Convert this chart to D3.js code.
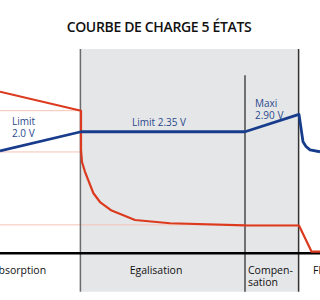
<!DOCTYPE html>
<html>
<head>
<meta charset="utf-8">
<script src="https://cdn.jsdelivr.net/npm/d3@7"></script>
<style>
body { margin: 0; background: #fff; }
svg { display: block; }
</style>
</head>
<body>
<script>
// time (hours, approx) and level (% of scale)
var redT = [0, 4.05, 4.05, 4.1, 4.25, 4.67, 5.0, 5.58, 6.75, 8.5, 12.25, 14.95, 15.58, 16];
var redV = [79.1, 69.8, 50.6, 44.7, 39.9, 29.4, 25.1, 20.9, 16.3, 14.7, 13.7, 13.6, 0.8, 0.8];

var blueT = [0, 4.05, 12.25, 14.95, 15.15, 15.3, 15.5, 16];
var blueV = [50.1, 59.5, 59.5, 68.0, 54.6, 52.3, 50.6, 49.7];

// phase boundaries
var phaseT = [4.02, 12.25, 14.93];
var phaseNames = ['Absorption', 'Egalisation', 'Compen-|sation', 'Floating'];
var phaseLabelT = [0.95, 7.8, 12.4, 15.65];

// thin guide lines : level, from t, to t
var guideV = [69.8, 49.6, 13.9];
var guideEnd = [4.02, 4.02, 14.93];

var title = 'COURBE DE CHARGE 5 ÉTATS';

var width = 320, height = 300;

var x = d3.scaleLinear().domain([0, 16]).range([0, 320]);
var y = d3.scaleLinear().domain([0, 100]).range([253.3, 49]);

var svg = d3.select('body').append('svg')
	.attr('width', width)
	.attr('height', height);

// grey band for egalisation + compensation
svg.append('rect')
	.attr('x', x(phaseT[0]))
	.attr('y', y(100))
	.attr('width', x(phaseT[2]) - x(phaseT[0]))
	.attr('height', y(-18.8) - y(100))
	.attr('fill', '#e5e6e8');

// guide lines
svg.selectAll('.guide')
	.data(guideV)
	.enter().append('line')
	.attr('class', 'guide')
	.attr('x1', x(0))
	.attr('x2', function(d, i) { return x(guideEnd[i]); })
	.attr('y1', function(d) { return y(d); })
	.attr('y2', function(d) { return y(d); })
	.attr('stroke', '#f6c3b4')
	.attr('stroke-width', 1);

// phase separators
svg.append('line')
	.attr('x1', x(phaseT[0])).attr('x2', x(phaseT[0]))
	.attr('y1', y(100)).attr('y2', y(-18.8))
	.attr('stroke', '#6a6a6a').attr('stroke-width', 1.5);
svg.append('line')
	.attr('x1', x(phaseT[1])).attr('x2', x(phaseT[1]))
	.attr('y1', y(87.2)).attr('y2', y(-18.8))
	.attr('stroke', '#222').attr('stroke-width', 1.2);
svg.append('line')
	.attr('x1', x(phaseT[2])).attr('x2', x(phaseT[2]))
	.attr('y1', y(100)).attr('y2', y(-18.8))
	.attr('stroke', '#333').attr('stroke-width', 1.5);

// time axis
svg.append('line')
	.attr('x1', x(0)).attr('x2', x(16))
	.attr('y1', y(0)).attr('y2', y(0))
	.attr('stroke', '#000').attr('stroke-width', 2.5);

var line = d3.line()
	.x(function(d) { return x(d[0]); })
	.y(function(d) { return y(d[1]); });

svg.append('path')
	.attr('d', line(d3.zip(redT, redV)))
	.attr('fill', 'none')
	.attr('stroke', '#dc3a1f')
	.attr('stroke-width', 2.2)
	.attr('stroke-linejoin', 'round');

svg.append('path')
	.attr('d', line(d3.zip(blueT, blueV)))
	.attr('fill', 'none')
	.attr('stroke', '#173c8c')
	.attr('stroke-width', 2.8)
	.attr('stroke-linejoin', 'round');

// title
svg.append('text')
	.attr('x', 159)
	.attr('y', 32)
	.attr('text-anchor', 'middle')
	.style('font-family', '"Open Sans", sans-serif')
	.style('font-size', '14px')
	.style('font-weight', 600)
	.style('letter-spacing', '-0.35px')
	.style('fill', '#111')
	.text(title);

// blue annotations
var ann = svg.append('g')
	.style('font-family', '"Open Sans", sans-serif')
	.style('font-size', '10px')
	.style('fill', '#2b4a8c');
ann.append('text').attr('x', 12).attr('y', 125).text('Limit');
ann.append('text').attr('x', 12).attr('y', 136.5).text('2.0 V');
ann.append('text').attr('x', 159).attr('y', 125.5).attr('text-anchor', 'middle').text('Limit 2.35 V');
ann.append('text').attr('x', 255).attr('y', 107).text('Maxi');
ann.append('text').attr('x', 255).attr('y', 119).text('2.90 V');

// phase names
var lab = svg.append('g')
	.style('font-family', '"Open Sans", sans-serif')
	.style('font-size', '10.5px')
	.style('fill', '#111');
phaseNames.forEach(function(name, i) {
	var parts = name.split('|');
	var t = lab.append('text')
		.attr('x', x(phaseLabelT[i]))
		.attr('y', 274)
		.attr('text-anchor', i < 2 ? 'middle' : 'start');
	parts.forEach(function(p, j) {
		t.append('tspan')
			.attr('x', x(phaseLabelT[i]))
			.attr('dy', j == 0 ? 0 : 12)
			.text(p);
	});
});
</script>
</body>
</html>
